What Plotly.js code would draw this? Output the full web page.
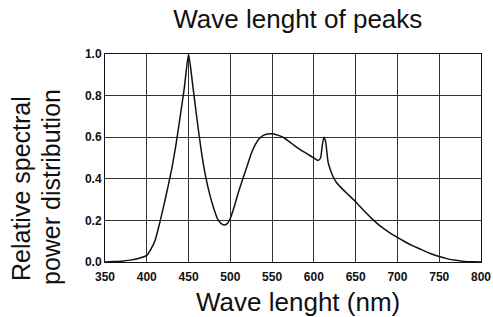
<!DOCTYPE html>
<html>
<head>
<meta charset="utf-8">
<script src="https://cdn.plot.ly/plotly-3.0.1.min.js"></script>
<style>html,body{margin:0;padding:0;background:#fff;}#chart{width:493px;height:317px;}</style>
</head>
<body>
<div id="chart"></div>
<script>
const wavelength = [350,360,370,380,390,400,405,410,415,420,425,430,435,440,445,450,455,460,465,470,475,480,485,490,493,497,500,505,510,515,520,525,530,535,540,545,550,555,560,565,570,575,580,585,590,595,600,605,608,610,612,614,617,620,623,627,632,640,650,660,670,680,690,700,710,720,730,740,750,760,770,780,790,800];
const power = [0.000,0.002,0.004,0.009,0.017,0.032,0.062,0.105,0.180,0.265,0.355,0.450,0.565,0.700,0.840,1.000,0.850,0.690,0.540,0.420,0.330,0.260,0.205,0.182,0.178,0.188,0.210,0.270,0.340,0.400,0.460,0.520,0.565,0.595,0.610,0.615,0.616,0.612,0.605,0.595,0.580,0.565,0.550,0.537,0.525,0.512,0.500,0.488,0.500,0.560,0.600,0.580,0.480,0.440,0.410,0.382,0.360,0.328,0.290,0.246,0.206,0.171,0.143,0.118,0.095,0.075,0.057,0.040,0.026,0.015,0.008,0.003,0.001,0.000];
const xTicks = [350,400,450,500,550,600,650,700,750,800];
const yTicks = [0,0.2,0.4,0.6,0.8,1.0];
const yTickText = ["0.0","0.2","0.4","0.6","0.8","1.0"];
const titleText = "Wave lenght of peaks";
const xTitle = "Wave lenght (nm)";
const yTitle1 = "Relative spectral";
const yTitle2 = "power distribution";

const trace = {
  x: wavelength, y: power, type: 'scatter', mode: 'lines',
  line: {color: '#111', width: 1.5, shape: 'spline', smoothing: 0.5}, hoverinfo: 'skip'
};
const fontFam = 'Liberation Sans, Arial, sans-serif';
const layout = {
  width: 493, height: 317,
  margin: {l: 105, r: 12, t: 54, b: 55},
  paper_bgcolor: '#fff', plot_bgcolor: '#fff',
  showlegend: false,
  title: {text: titleText, font: {family: fontFam, size: 26, color: '#111'},
          xref: 'container', x: 297.8/493, xanchor: 'center',
          yref: 'container', y: 1 - 19/317, yanchor: 'middle'},
  xaxis: {range: [350, 800], tickvals: xTicks, ticktext: xTicks.map(String),
          showgrid: true, gridcolor: '#333', gridwidth: 1,
          showline: true, linecolor: '#111', linewidth: 1, mirror: true,
          zeroline: false, ticks: 'outside', ticklen: 4, tickcolor: 'rgba(0,0,0,0)',
          tickfont: {family: fontFam, size: 12, color: '#111', weight: 'bold'}},
  yaxis: {range: [0, 1], tickvals: yTicks, ticktext: yTickText,
          showgrid: true, gridcolor: '#333', gridwidth: 1,
          showline: true, linecolor: '#111', linewidth: 1, mirror: true,
          zeroline: false, ticks: '',
          tickfont: {family: fontFam, size: 12, color: '#111', weight: 'bold'}},
  annotations: [
    {text: xTitle, xref: 'paper', yref: 'paper', x: (297.5-105)/376, y: (262-302)/208,
     xanchor: 'center', yanchor: 'middle', showarrow: false,
     font: {family: fontFam, size: 26, color: '#111'}},
    {text: yTitle1, xref: 'paper', yref: 'paper', x: (21-105)/376, y: (262-189)/208,
     xanchor: 'center', yanchor: 'middle', showarrow: false, textangle: -90,
     font: {family: fontFam, size: 25, color: '#111'}},
    {text: yTitle2, xref: 'paper', yref: 'paper', x: (51-105)/376, y: (262-187)/208,
     xanchor: 'center', yanchor: 'middle', showarrow: false, textangle: -90,
     font: {family: fontFam, size: 25, color: '#111'}}
  ]
};
Plotly.newPlot('chart', [trace], layout, {staticPlot: true, displayModeBar: false});
</script>
</body>
</html>
